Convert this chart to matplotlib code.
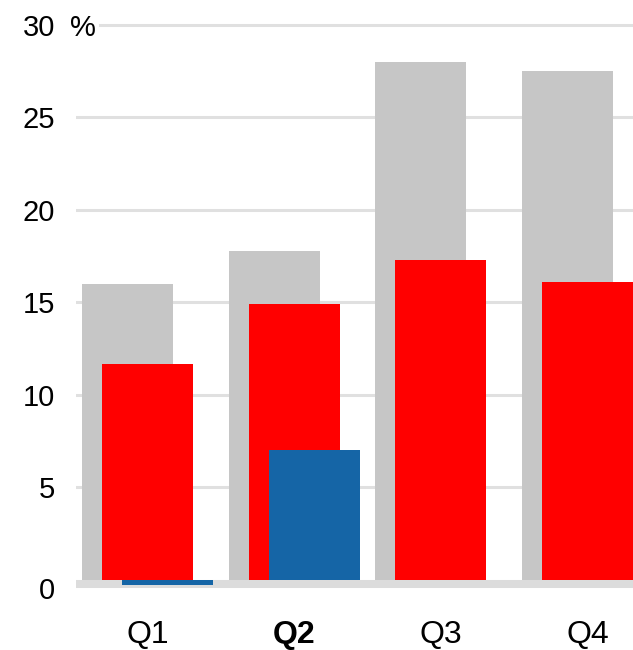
import matplotlib.pyplot as plt
import numpy as np

plt.rcParams['font.family'] = ['Liberation Sans', 'DejaVu Sans']

quarters = ["Q1", "Q2", "Q3", "Q4"]
grey_vals = [16.0, 17.8, 28.0, 27.5]
red_vals = [11.7, 14.9, 17.3, 16.1]
blue_vals = [-0.27, 7.0, np.nan, np.nan]
y_ticks = [5, 10, 15, 20, 25, 30]

W, H = 633, 650
fig = plt.figure(figsize=(W / 100, H / 100), dpi=100)
# axes spans from x=76px to right edge, from top down to y=592px
ax = fig.add_axes([76 / W, (H - 592) / H, (W - 76) / W, 592 / H])

x = np.arange(len(quarters))
width = 0.62
off = 0.136

# axis band sits just below zero, under the bars
ax.axhline(-0.22, color='#dcdcdc', lw=5.8, zorder=1)
ax.bar(x - off, grey_vals, width, color='#c6c6c6', zorder=2)
ax.bar(x, red_vals, width, color='#ff0000', zorder=3)
ax.bar(x + off, blue_vals, width, color='#1565a6', zorder=4)

# gridlines (the top one is cut short for the % sign)
for t in y_ticks:
    xmin = (100 - 76) / (W - 76) if t == 30 else 0
    ax.axhline(t, xmin=xmin, color='#e0e0e0', lw=2.2, zorder=0)

ax.set_xlim(-0.487, 3.31)
ax.set_ylim(-0.65, 31.35)

ax.set_yticks(y_ticks)
ax.set_yticklabels([str(t) for t in y_ticks], fontsize=21)
ax.set_xticks(x)
ax.set_xticklabels(quarters, fontsize=23)
ax.get_xticklabels()[1].set_fontweight('bold')
ax.tick_params(axis='y', length=0, pad=15)
ax.tick_params(axis='x', length=0, pad=20)

ytr = ax.get_yaxis_transform()
ax.text(-21 / (W - 76), -0.45, "0", transform=ytr,
        ha='right', va='center_baseline', fontsize=21)
ax.text(-6 / (W - 76), 30, "%", transform=ytr,
        ha='left', va='center_baseline', fontsize=21)

for s in ax.spines.values():
    s.set_visible(False)

fig.savefig("out.png", dpi=100)
